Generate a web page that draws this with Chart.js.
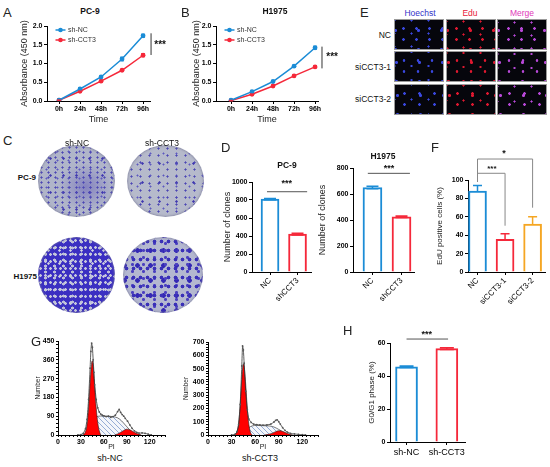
<!DOCTYPE html>
<html>
<head>
<meta charset="utf-8">
<script src="https://cdn.jsdelivr.net/npm/chart.js@4.4.1/dist/chart.umd.min.js"></script>
<style>
body { margin: 0; width: 550px; height: 467px; background: #fff; position: relative; overflow: hidden; font-family: "Liberation Sans", Arial, sans-serif; }
canvas { position: absolute; }
.t { position: absolute; white-space: nowrap; line-height: 1; color: #111; }
.dish { position: absolute; border-radius: 50%; box-shadow: inset 0 0 2px 1px rgba(120,120,150,0.6); }
.img { position: absolute; background-color: #06060c; border: 1px solid #9a9a9a; box-sizing: border-box; }
</style>
</head>
<body>
<script>
"use strict";

// ---- data ----
const timeLabels = ['0h', '24h', '48h', '72h', '96h'];
const pc9NC = [0.02, 0.32, 0.64, 1.12, 1.74];
const pc9NCsd = [0.01, 0.02, 0.02, 0.05, 0.04];
const pc9CCT3 = [0.02, 0.26, 0.53, 0.82, 1.22];
const pc9CCT3sd = [0.01, 0.01, 0.02, 0.02, 0.04];
const h1975NC = [0.02, 0.25, 0.52, 0.93, 1.42];
const h1975NCsd = [0.01, 0.01, 0.02, 0.02, 0.04];
const h1975CCT3 = [0.01, 0.18, 0.40, 0.67, 0.91];
const h1975CCT3sd = [0.01, 0.01, 0.02, 0.02, 0.02];

const cloneLabels = ['NC', 'shCCT3'];
const pc9Clones = [810, 420];
const pc9ClonesSd = [8, 10];
const h1975Clones = [650, 425];
const h1975ClonesSd = [10, 5];

const eduLabels = ['NC', 'siCCT3-1', 'siCCT3-2'];
const eduPositive = [88, 35.5, 52];
const eduPositiveSd = [6, 6, 8];

const g1Labels = ['sh-NC', 'sh-CCT3'];
const g1Phase = [45.6, 56.6];
const g1PhaseSd = [0.4, 0.5];

// cell cycle histograms (PI, count)
const ncRawPI = [26, 30, 33, 36, 38, 40, 42, 43, 44, 45, 46, 47, 48, 50, 52, 54, 56, 58, 60, 63, 66, 69, 72, 75, 78, 80, 82, 84, 86, 88, 91, 94, 97, 100, 103, 106, 110, 114, 118, 122];
const ncRaw = [0, 2, 8, 30, 75, 170, 320, 400, 440, 420, 360, 300, 240, 170, 130, 110, 100, 95, 92, 88, 90, 85, 88, 95, 112, 122, 108, 98, 90, 80, 66, 48, 32, 20, 13, 9, 10, 8, 4, 0];
const ncG1PI = [32, 35, 38, 40, 42, 44, 45, 46, 48, 50, 52, 54, 56];
const ncG1 = [0, 8, 50, 130, 250, 345, 355, 330, 230, 130, 60, 20, 0];
const ncSPI = [44, 47, 50, 53, 58, 65, 72, 78, 83, 88, 93, 98, 103];
const ncS = [0, 35, 80, 90, 91, 90, 88, 82, 68, 48, 28, 10, 0];
const ncG2PI = [74, 78, 82, 86, 90, 94, 98, 102, 106, 109];
const ncG2 = [0, 5, 13, 22, 28, 25, 17, 9, 3, 0];

const cctRawPI = [30, 34, 37, 39, 41, 43, 44, 45, 46, 48, 50, 52, 55, 58, 62, 66, 70, 75, 80, 84, 86, 88, 90, 92, 95, 98, 101, 105, 110, 115, 120, 124];
const cctRaw = [0, 5, 25, 80, 230, 520, 670, 640, 540, 330, 190, 120, 95, 82, 78, 76, 74, 76, 82, 98, 110, 114, 100, 82, 55, 35, 22, 12, 8, 5, 2, 0];
const cctG1PI = [33, 36, 39, 41, 43, 45, 46, 48, 50, 52, 54, 56];
const cctG1 = [0, 15, 90, 230, 420, 535, 520, 380, 200, 80, 20, 0];
const cctSPI = [44, 48, 52, 56, 62, 70, 78, 84, 90, 95, 100, 104];
const cctS = [0, 25, 55, 68, 72, 70, 68, 60, 42, 25, 8, 0];
const cctG2PI = [72, 77, 82, 86, 90, 93, 97, 101, 105, 108];
const cctG2 = [0, 5, 14, 25, 32, 31, 22, 12, 4, 0];

const BLUE = '#1b8cd6';
const RED = '#f5283a';
const ORANGE = '#f5a623';
const FONT = '"Liberation Sans", Arial, sans-serif';

Chart.defaults.font.family = FONT;
Chart.defaults.color = '#000';
Chart.defaults.animation = false;
Chart.defaults.plugins.legend.display = false;
Chart.defaults.plugins.tooltip.enabled = false;

// ---- helpers ----
function label(text, x, y, css, anchor) {
    const d = document.createElement('div');
    d.className = 't';
    d.textContent = text;
    d.style.cssText += css;
    d.style.left = x + 'px';
    d.style.top = y + 'px';
    const ax = anchor === 'l' ? '0' : anchor === 'r' ? '-100%' : '-50%';
    d.style.transform = 'translate(' + ax + ',-50%)';
    document.body.appendChild(d);
}

// a = chart area in page px, m = room around it for axes
function place(a, m) {
    const c = document.createElement('canvas');
    c.width = a.r - a.l + m.l + m.r;
    c.height = a.b - a.t + m.t + m.b;
    c.style.left = (a.l - m.l) + 'px';
    c.style.top = (a.t - m.t) + 'px';
    document.body.appendChild(c);
    return {c: c, left: a.l - m.l, bottom: a.b + m.b};
}

function yScale(p, m, o) {
    return {
        type: 'linear', position: 'left', min: o.min, max: o.max,
        afterBuildTicks: s => { s.ticks = o.ticks.map(v => ({value: v})); },
        afterFit: s => { s.width = m.l; s.paddingTop = 0; s.paddingBottom = 0; },
        grid: {drawOnChartArea: false, color: '#000', tickLength: o.tl || 3},
        border: {color: '#000', width: 1},
        ticks: {font: {size: o.fs || 7, weight: 'bold'}, padding: 1.5, autoSkip: false, callback: o.fmt || (v => v)},
        title: o.title ? {display: true, text: o.title, color: '#222', font: {size: o.tfs},
            padding: {top: o.tx - p.left - 0.6 * o.tfs, bottom: 0}} : {display: false}
    };
}

function xScale(p, m, o) {
    return {
        type: 'linear', position: 'bottom', min: o.min, max: o.max, offset: false,
        afterBuildTicks: s => { s.ticks = o.ticks.map(v => ({value: v})); },
        afterFit: s => { s.height = m.b; s.paddingLeft = 0; s.paddingRight = 0; },
        grid: {drawOnChartArea: false, offset: false, color: '#000', tickLength: o.tl || 3},
        border: {color: '#000', width: 1},
        ticks: {font: {size: o.fs || 7, weight: o.fw || 'bold'}, padding: o.tp || 1, autoSkip: false,
            maxRotation: o.rot || 0, minRotation: o.rot || 0, callback: o.fmt || (v => v)},
        title: o.title ? {display: true, text: o.title, color: '#222', font: {size: o.tfs},
            padding: {top: 0, bottom: p.bottom - o.ty - 0.6 * o.tfs}} : {display: false}
    };
}

// error bars from dataset.sd through the y scale
const errorBars = {
    id: 'errorBars',
    afterDatasetsDraw(chart) {
        const ctx = chart.ctx, ys = chart.scales.y;
        chart.data.datasets.forEach((ds, di) => {
            if (!ds.sd) return;
            chart.getDatasetMeta(di).data.forEach((el, i) => {
                const v = ds.data[i].y, e = ds.sd[i];
                const top = ys.getPixelForValue(v + e);
                const bot = ys.getPixelForValue(ds.upOnly ? v : v - e);
                ctx.save();
                ctx.strokeStyle = Array.isArray(ds.borderColor) ? ds.borderColor[i] : ds.borderColor;
                ctx.lineWidth = ds.errWidth || 1.5;
                ctx.beginPath();
                ctx.moveTo(el.x, top); ctx.lineTo(el.x, bot);
                ctx.moveTo(el.x - ds.cap / 2, top); ctx.lineTo(el.x + ds.cap / 2, top);
                if (!ds.upOnly) { ctx.moveTo(el.x - ds.cap / 2, bot); ctx.lineTo(el.x + ds.cap / 2, bot); }
                ctx.stroke();
                ctx.restore();
            });
        });
    }
};

// significance lines / stars, in data units
function marks(lines, texts, color) {
    return {
        id: 'marks',
        afterDraw(chart) {
            const {ctx, scales: {x, y}} = chart;
            ctx.save();
            ctx.strokeStyle = color;
            ctx.lineWidth = 1;
            ctx.beginPath();
            lines.forEach(l => {
                ctx.moveTo(x.getPixelForValue(l[0]), y.getPixelForValue(l[1]));
                for (let k = 2; k < l.length; k += 2) ctx.lineTo(x.getPixelForValue(l[k]), y.getPixelForValue(l[k + 1]));
            });
            ctx.stroke();
            ctx.fillStyle = '#111';
            ctx.textAlign = 'center';
            ctx.textBaseline = 'middle';
            texts.forEach(t => {
                ctx.font = 'bold ' + (t[3] || 9) + 'px ' + FONT;
                ctx.fillText(t[2], x.getPixelForValue(t[0]), y.getPixelForValue(t[1]));
            });
            ctx.restore();
        }
    };
}

// legend drawn inside the plot, like Prism
function innerLegend(dx, dy) {
    return {
        id: 'innerLegend',
        afterDraw(chart) {
            const {ctx, chartArea} = chart;
            ctx.save();
            ctx.font = '7px ' + FONT;
            ctx.textBaseline = 'middle';
            chart.data.datasets.forEach((ds, i) => {
                const x = chartArea.left + dx, y = chartArea.top + dy + i * 10;
                ctx.strokeStyle = ds.borderColor;
                ctx.lineWidth = 1.5;
                ctx.beginPath(); ctx.moveTo(x - 5, y); ctx.lineTo(x + 5, y); ctx.stroke();
                ctx.fillStyle = ds.borderColor;
                ctx.beginPath(); ctx.arc(x, y, 2.3, 0, Math.PI * 2); ctx.fill();
                ctx.fillStyle = '#333';
                ctx.fillText(ds.label, x + 7.5, y);
            });
            ctx.restore();
        }
    };
}

function points(vals) { return vals.map((y, i) => ({x: i, y: y})); }
function pairs(xs, ys) { return xs.map((x, i) => ({x: x, y: ys[i]})); }

// ---- A / B growth curves ----
function growthChart(a, nc, ncSd, cct, cctSd, sigLine, sigText, ytx, xmin, xmax) {
    const m = {l: 32, t: 10, r: 32, b: 24};
    const p = place(a, m);
    new Chart(p.c, {
        type: 'line',
        data: {
            datasets: [
                {label: 'sh-NC', data: points(nc), sd: ncSd, cap: 4, errWidth: 1, borderColor: BLUE, backgroundColor: BLUE,
                    borderWidth: 1.5, pointRadius: 2.4, pointBorderWidth: 0},
                {label: 'sh-CCT3', data: points(cct), sd: cctSd, cap: 4, errWidth: 1, borderColor: RED, backgroundColor: RED,
                    borderWidth: 1.5, pointRadius: 2.4, pointBorderWidth: 0}
            ]
        },
        options: {
            responsive: false,
            layout: {padding: {left: 0, top: m.t, right: m.r, bottom: 0}},
            scales: {
                x: xScale(p, m, {min: xmin, max: xmax, ticks: [0, 1, 2, 3, 4], fmt: v => timeLabels[v],
                    title: 'Time', tfs: 9, ty: 119.5}),
                y: yScale(p, m, {min: 0, max: 2, ticks: [0, 0.5, 1, 1.5, 2], fmt: v => v.toFixed(1),
                    title: 'Absorbance (450 nm)', tfs: 9, tx: ytx})
            }
        },
        plugins: [errorBars, innerLegend(13.5, 4), marks([sigLine], [sigText], '#333')]
    });
}

growthChart({l: 47, t: 26, r: 150, b: 101}, pc9NC, pc9NCsd, pc9CCT3, pc9CCT3sd,
    [4.38, 1.805, 4.38, 1.227], [4.81, 1.5, '***', 10], 25, -0.571, 4.33);
growthChart({l: 216, t: 26, r: 318, b: 101}, h1975NC, h1975NCsd, h1975CCT3, h1975CCT3sd,
    [4.33, 1.45, 4.33, 0.87], [4.81, 1.17, '***', 10], 197, -0.714, 4.14);

// ---- bar charts ----
function barChart(a, m, o) {
    const p = place(a, m);
    new Chart(p.c, {
        type: 'bar',
        data: {
            datasets: [{
                data: points(o.values), sd: o.sd, upOnly: o.upOnly, cap: o.cap, errWidth: 1.5,
                backgroundColor: '#fff', borderColor: o.colors, borderWidth: 2, barThickness: o.bw
            }]
        },
        options: {
            responsive: false,
            layout: {padding: {left: 0, top: m.t, right: m.r, bottom: 0}},
            scales: {
                x: xScale(p, m, {min: o.xmin, max: o.xmax, ticks: o.labels.map((l, i) => i), fmt: v => o.labels[v],
                    rot: o.rot, fs: o.xfs || 8, fw: 'normal', tp: o.xtp || 1}),
                y: yScale(p, m, {min: 0, max: o.ymax, ticks: o.yticks, title: o.ytitle, tfs: o.tfs || 9, tx: o.ytx})
            }
        },
        plugins: [errorBars, marks(o.lines, o.texts, o.markColor || '#555')]
    });
}

barChart({l: 252, t: 182, r: 311, b: 272}, {l: 30, t: 10, r: 4, b: 32}, {
    values: pc9Clones, sd: pc9ClonesSd, cap: 12, colors: [BLUE, RED], bw: 18, labels: cloneLabels,
    xmin: -0.655, xmax: 1.49, rot: 45, ymax: 1000, yticks: [0, 200, 400, 600, 800, 1000],
    ytitle: 'Number of clones', ytx: 228,
    lines: [[-0.11, 892, 1.35, 892]], texts: [[0.61, 980, '***', 9]]
});
barChart({l: 353, t: 168, r: 414, b: 272}, {l: 38, t: 10, r: 4, b: 32}, {
    values: h1975Clones, sd: h1975ClonesSd, cap: 12, colors: [BLUE, RED], bw: 19, labels: cloneLabels,
    xmin: -0.67, xmax: 1.43, rot: 45, ymax: 800, yticks: [0, 200, 400, 600, 800],
    ytitle: 'Number of clones', ytx: 323,
    lines: [[-0.16, 759, 1.29, 759]], texts: [[0.57, 797, '***', 9]]
});
barChart({l: 468, t: 180, r: 545, b: 272}, {l: 36, t: 32, r: 4, b: 32}, {
    values: eduPositive, sd: eduPositiveSd, upOnly: true, cap: 9, colors: [BLUE, RED, ORANGE], bw: 18, labels: eduLabels,
    xmin: -0.345, xmax: 2.45, rot: 45, ymax: 100, yticks: [0, 20, 40, 60, 80, 100],
    ytitle: 'EdU positive cells (%)', tfs: 8, ytx: 440, markColor: '#888',
    lines: [[0, 97.8, 0, 122.8, 2, 122.8, 2, 69.9], [0, 107.3, 1, 107.3, 1, 50.3]],
    texts: [[0.96, 129, '*', 9], [0.52, 112, '***', 8]]
});
barChart({l: 390, t: 343, r: 465, b: 442}, {l: 26, t: 14, r: 4, b: 20}, {
    values: g1Phase, sd: g1PhaseSd, cap: 14, colors: [BLUE, RED], bw: 22, labels: g1Labels,
    xmin: -0.41, xmax: 1.45, rot: 0, xfs: 9, xtp: 2, ymax: 60, yticks: [0, 20, 40, 60],
    ytitle: 'G0/G1 phase (%)', tfs: 8, ytx: 372,
    lines: [[0, 62.4, 1.03, 62.4]], texts: [[0.5, 65, '***', 9]]
});

// ---- G histograms ----
const hatchCanvas = document.createElement('canvas');
hatchCanvas.width = 5; hatchCanvas.height = 5;
const hc = hatchCanvas.getContext('2d');
hc.fillStyle = '#f4f6fb'; hc.fillRect(0, 0, 5, 5);
hc.strokeStyle = '#7d9acc'; hc.lineWidth = 0.8;
hc.beginPath(); hc.moveTo(0, 0); hc.lineTo(5, 5); hc.moveTo(-1, 4); hc.lineTo(1, 6); hc.moveTo(4, -1); hc.lineTo(6, 1); hc.stroke();
const hatch = hc.createPattern(hatchCanvas, 'repeat');

function cycleChart(a, m, o) {
    const p = place(a, m);
    const area = (xs, ys, bg, ord) => ({data: pairs(xs, ys), fill: 'origin', backgroundColor: bg, borderColor: '#222',
        borderWidth: 0.6, pointRadius: 0, cubicInterpolationMode: 'monotone', order: ord});
    new Chart(p.c, {
        type: 'line',
        data: {
            datasets: [
                {data: pairs(o.rawPI, o.raw), fill: false, borderColor: '#333', borderWidth: 0.8, pointRadius: 0.9,
                    pointBackgroundColor: '#555', pointBorderWidth: 0, tension: 0.2, order: 0},
                area(o.g1PI, o.g1, '#ff0000', 1),
                area(o.g2PI, o.g2, '#ff0000', 2),
                area(o.sPI, o.s, hatch, 3)
            ]
        },
        options: {
            responsive: false,
            layout: {padding: {left: 0, top: m.t, right: m.r, bottom: 0}},
            scales: {
                x: xScale(p, m, {min: 0, max: 140, ticks: Array.from({length: 29}, (v, i) => i * 5), tl: 2,
                    fmt: v => (v % 30 === 0 && v <= 120 ? v : ''), title: 'PI', tfs: 7, ty: o.ty}),
                y: yScale(p, m, {min: 0, max: o.ymax, ticks: o.yticks, tl: 2,
                    fmt: v => (v % o.major === 0 ? v : ''), title: 'Number', tfs: 6.5, tx: o.ytx})
            }
        }
    });
}

const leftTicks = [], rightTicks = [];
for (let v = 0; v <= 450; v += 18) leftTicks.push(v);
for (let v = 0; v <= 700; v += 20) rightTicks.push(v);

cycleChart({l: 58, t: 341, r: 165, b: 435}, {l: 30, t: 4, r: 4, b: 16}, {
    rawPI: ncRawPI, raw: ncRaw, g1PI: ncG1PI, g1: ncG1, sPI: ncSPI, s: ncS, g2PI: ncG2PI, g2: ncG2,
    ymax: 450, yticks: leftTicks, major: 90, ytx: 38, ty: 447
});
cycleChart({l: 208, t: 342, r: 318, b: 435}, {l: 30, t: 4, r: 4, b: 16}, {
    rawPI: cctRawPI, raw: cctRaw, g1PI: cctG1PI, g1: cctG1, sPI: cctSPI, s: cctS, g2PI: cctG2PI, g2: cctG2,
    ymax: 700, yticks: rightTicks, major: 100, ytx: 186, ty: 447
});

// ---- C: colony dishes (photo stand-ins) ----
function dots(color, r, w, h, x, y) {
    return 'radial-gradient(circle, ' + color + ' ' + r + 'px, transparent ' + (r + 0.6) + 'px) ' +
        x + 'px ' + y + 'px/' + w + 'px ' + h + 'px';
}
const dishStyles = {
    pc9NC: [dots('#4b46b4', 0.8, 7, 5, 0, 0), dots('#5d58c0', 0.7, 11, 9, 3, 2), dots('#4038b0', 0.9, 13, 17, 6, 5),
        'radial-gradient(ellipse at 62% 58%, rgba(80,70,180,0.45), transparent 40%)', '#b0b5c9'].join(','),
    pc9CCT3: [dots('#4b46b4', 0.8, 9, 7, 0, 0), dots('#5d58c0', 0.7, 13, 11, 4, 3), dots('#4038b0', 0.9, 17, 19, 7, 9),
        '#b6bacb'].join(','),
    h1975NC: [dots('#c6c8dc', 1.0, 5, 7, 0, 0), dots('#bcbed8', 1.2, 9, 6, 3, 2), dots('#d0d2e2', 0.9, 11, 13, 5, 7),
        '#3b2fc2'].join(','),
    h1975CCT3: [dots('#3a30b8', 1.6, 7, 9, 0, 0), dots('#4b40c0', 1.2, 11, 7, 4, 3), dots('#3428b4', 2.0, 13, 15, 8, 6),
        '#b4b8d0'].join(',')
};
function dish(cx, cy, w, h, style) {
    const d = document.createElement('div');
    d.className = 'dish';
    d.style.left = (cx - w / 2) + 'px';
    d.style.top = (cy - h / 2) + 'px';
    d.style.width = w + 'px';
    d.style.height = h + 'px';
    d.style.background = style;
    document.body.appendChild(d);
}
dish(76.5, 181, 77, 72, dishStyles.pc9NC);
dish(165, 181, 77, 72, dishStyles.pc9CCT3);
dish(76.5, 275, 77, 76, dishStyles.h1975NC);
dish(163, 275, 80, 76, dishStyles.h1975CCT3);

// ---- E: EdU staining (photo stand-ins) ----
const stainCols = [
    {x: 394, dot: '#3a48e0'},
    {x: 446, dot: '#e01830'},
    {x: 497, dot: '#b848d8'}
];
const stainRows = [19, 51, 84];
stainRows.forEach((y, r) => {
    stainCols.forEach((c, k) => {
        const d = document.createElement('div');
        d.className = 'img';
        d.style.left = c.x + 'px';
        d.style.top = y + 'px';
        d.style.width = '50px';
        d.style.height = '31px';
        d.style.background = [dots(c.dot, 1.0, 13 + r, 11, 2 + k, 3), dots(c.dot, 0.8, 17, 13 + r, 8, 7 + k),
            dots(c.dot, 1.2, 23, 19, 12 + r, 1), '#06060c'].join(',');
        document.body.appendChild(d);
    });
});

// ---- text ----
const letter = 'font-size:13px;color:#222;';
label('A', 3, 12, letter, 'l');
label('B', 181, 12, letter, 'l');
label('C', 3, 140, letter, 'l');
label('D', 221, 147, letter, 'l');
label('E', 360, 12, letter, 'l');
label('F', 431, 147, letter, 'l');
label('G', 31, 341, letter, 'l');
label('H', 343, 330, letter, 'l');

const sub = 'font-size:8.5px;font-weight:bold;';
label('PC-9', 90, 11, sub);
label('H1975', 275, 11, sub);
label('PC-9', 287, 165, sub);
label('H1975', 383, 156, sub);
label('PC-9', 36, 178, 'font-size:8px;font-weight:bold;', 'r');
label('H1975', 37, 277, 'font-size:8px;font-weight:bold;', 'r');
label('sh-NC', 77, 143, 'font-size:8.5px;');
label('sh-CCT3', 162, 143, 'font-size:8.5px;');

label('Hoechst', 420, 13, 'font-size:8.5px;color:#3232c8;');
label('Edu', 470, 13, 'font-size:8.5px;color:#e8203a;');
label('Merge', 522, 13, 'font-size:8.5px;color:#e038b8;');
label('NC', 391, 35, 'font-size:8.5px;', 'r');
label('siCCT3-1', 391, 67, 'font-size:8.5px;', 'r');
label('siCCT3-2', 391, 99, 'font-size:8.5px;', 'r');

label('sh-NC', 110, 458, 'font-size:9px;');
label('sh-CCT3', 260, 458, 'font-size:9px;');
</script>
</body>
</html>
